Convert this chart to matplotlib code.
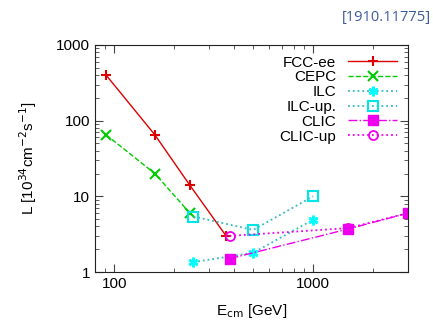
import matplotlib
matplotlib.use("Agg")
import matplotlib.pyplot as plt
from matplotlib.ticker import LogLocator, NullFormatter, FixedLocator, FixedFormatter

plt.rcParams['font.family'] = ['Liberation Sans', 'DejaVu Sans']

# data
fcc_e = [91, 160, 240, 365]
fcc_l = [400, 65, 14, 3.0]
cepc_e = [91, 160, 240]
cepc_l = [65, 20, 6.0]
ilc_e = [250, 500, 1000]
ilc_l = [1.35, 1.8, 4.9]
ilcup_e = [250, 500, 1000]
ilcup_l = [5.4, 3.6, 10]
clic_e = [380, 1500, 3000]
clic_l = [1.5, 3.7, 6.0]
clicup_e = [380, 1500, 3000]
clicup_l = [3.0, 3.8, 6.0]

fig = plt.figure(figsize=(4.33, 3.21), dpi=100)
ax = fig.add_axes([95/433, 1-272/321, (408-95)/433, (272-45)/321])

ax.plot(fcc_e, fcc_l, color='#dd0000', ls='-', lw=1.0, marker='+', ms=7, mew=1.5, label='FCC-ee')
ax.plot(cepc_e, cepc_l, color='#00cc00', ls='--', lw=1.0, marker='x', ms=7, mew=1.5, label='CEPC')
ax.plot(ilc_e, ilc_l, color='#33bbbb', ls=':', lw=1.3, marker=(6, 2, 0), ms=7, mew=1.8,
        mec='#00ffff', label='ILC')
ax.plot(ilcup_e, ilcup_l, color='#33bbbb', ls=':', lw=1.3, marker='s', ms=6.5, mew=1.5,
        mfc='none', mec='#00e5e5', label='ILC-up.')
ax.plot(clic_e, clic_l, color='#ee00ee', ls='-.', lw=1.0, marker='s', ms=6.5, label='CLIC')
ax.plot(clicup_e, clicup_l, color='#ee00ee', ls=':', lw=1.3, marker='o', ms=6.5, mfc='none',
        mew=1.3, label='CLIC-up')

ax.set_xscale('log')
ax.set_yscale('log')
ax.set_xlim(80, 3000)
ax.set_ylim(1, 1000)

ax.xaxis.set_major_locator(FixedLocator([100, 1000]))
ax.xaxis.set_major_formatter(FixedFormatter(['100', '1000']))
ax.xaxis.set_minor_locator(LogLocator(base=10, subs=range(2, 10)))
ax.xaxis.set_minor_formatter(NullFormatter())
ax.yaxis.set_major_locator(FixedLocator([1, 10, 100, 1000]))
ax.yaxis.set_major_formatter(FixedFormatter(['1', '10', '100', '1000']))
ax.yaxis.set_minor_locator(LogLocator(base=10, subs=range(2, 10)))
ax.yaxis.set_minor_formatter(NullFormatter())
ax.tick_params(which='both', direction='in', top=True, right=True, labelsize=11, color='#444444')
ax.tick_params(which='major', length=6)
ax.tick_params(which='minor', length=3)
for s in ax.spines.values():
    s.set_color('#222222')

ax.set_xlabel(r'E$_{\mathrm{cm}}$ [GeV]', fontsize=11, labelpad=8)
ax.set_ylabel(r'L [10$^{34}$cm$^{-2}$s$^{-1}$]', fontsize=11, labelpad=12)

leg = ax.legend(loc='upper right', frameon=False, fontsize=11, markerfirst=False,
                handlelength=3.2, labelspacing=0.05, borderaxespad=0.3, handletextpad=0.8)
for t in leg.get_texts():
    t.set_ha('right')

fig.text(0.995, 0.945, '[1910.11775]', ha='right', va='center', fontsize=10.5, color='#3d5a99',
         family=['Open Sans', 'DejaVu Sans'])

fig.savefig('out.png', dpi=100)
